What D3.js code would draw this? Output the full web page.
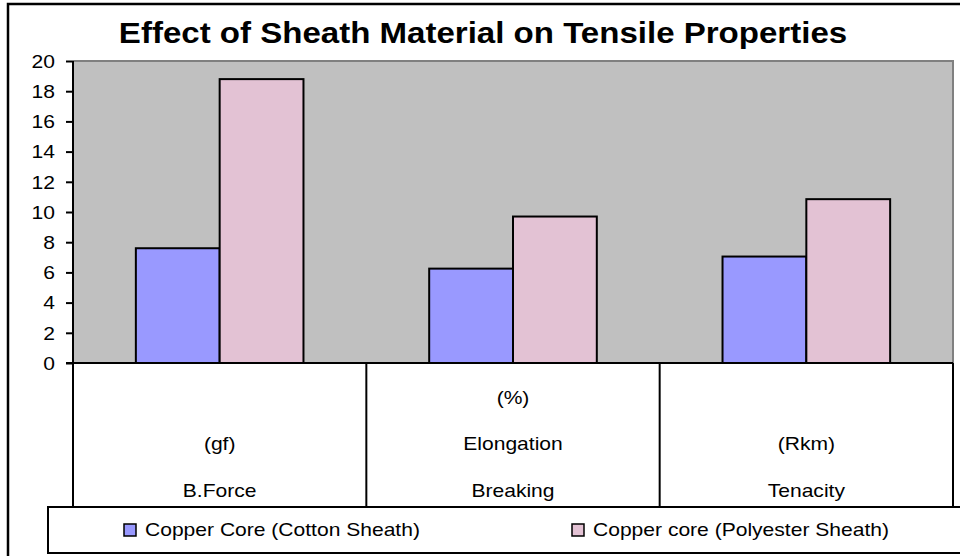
<!DOCTYPE html>
<html>
<head>
  <meta charset="UTF-8">
  <title>Effect of Sheath Material on Tensile Properties</title>
  <script src="https://d3js.org/d3.v7.min.js"></script>
  <style>
    body { margin: 0; background: #fff; }
    text { font-family: "Liberation Sans", Arial, sans-serif; fill: #000; }
  </style>
</head>
<body>
  <div id="chart"></div>
  <script>
    // chart data
    var categories = ["B.Force", "Elongation", "Tenacity"];
    // label lines for each category, bottom row first
    var labelLines = [["B.Force", "(gf)"], ["Breaking", "Elongation", "(%)"], ["Tenacity", "(Rkm)"]];
    var seriesNames = ["Copper Core (Cotton Sheath)", "Copper core (Polyester Sheath)"];
    var cottonValues = [7.6, 6.25, 7.05];
    var polyesterValues = [18.8, 9.7, 10.85];
    var yTicks = [0, 2, 4, 6, 8, 10, 12, 14, 16, 18, 20];

    var width = 960, height = 556;
    var stretch = 1.17; // text in the picture is a bit wider than normal Arial
    var colors = ["#9999ff", "#e3c2d4"]; // blue, and the mean tone of the pink dither

    var plot = { left: 73, right: 953, top: 61, bottom: 363 };
    var tableBottom = 507;

    var svg = d3.select("#chart").append("svg")
        .attr("width", width)
        .attr("height", height);

    // outer chart border
    svg.append("rect")
        .attr("x", 8).attr("y", 4)
        .attr("width", 960).attr("height", 560)
        .attr("fill", "none")
        .attr("stroke", "#000")
        .attr("stroke-width", 2.5);

    // title
    svg.append("text")
        .attr("transform", "translate(483,43) scale(1.14,1)")
        .attr("text-anchor", "middle")
        .style("font-size", "29px")
        .style("font-weight", "bold")
        .text("Effect of Sheath Material on Tensile Properties");

    // scales
    var x0 = d3.scaleBand()
        .domain(categories)
        .range([plot.left, plot.right])
        .padding(0);

    var x1 = d3.scaleBand()
        .domain(seriesNames)
        .range([0, x0.bandwidth()])
        .paddingInner(0)
        .paddingOuter(0.75);

    var y = d3.scaleLinear()
        .domain([0, 20])
        .range([plot.bottom, plot.top]);

    // plot background
    svg.append("rect")
        .attr("x", plot.left).attr("y", plot.top)
        .attr("width", plot.right - plot.left)
        .attr("height", plot.bottom - plot.top)
        .attr("fill", "#c0c0c0");
    svg.append("path")
        .attr("d", "M" + plot.left + "," + plot.top + "H" + plot.right + "V" + plot.bottom)
        .attr("fill", "none")
        .attr("stroke", "#808080")
        .attr("stroke-width", 2);

    // bars
    var rows = categories.map(function(c, i) {
      return { cat: c, values: [
        { name: seriesNames[0], value: cottonValues[i] },
        { name: seriesNames[1], value: polyesterValues[i] }
      ]};
    });

    var groups = svg.append("g").selectAll("g")
        .data(rows)
        .enter().append("g")
        .attr("transform", function(d) { return "translate(" + x0(d.cat) + ",0)"; });

    groups.selectAll("rect")
        .data(function(d) { return d.values; })
        .enter().append("rect")
        .attr("x", function(d) { return x1(d.name); })
        .attr("y", function(d) { return y(d.value); })
        .attr("width", x1.bandwidth())
        .attr("height", function(d) { return y(0) - y(d.value); })
        .attr("fill", function(d, i) { return colors[i]; })
        .attr("stroke", "#000")
        .attr("stroke-width", 2);

    // y axis
    var yAxis = svg.append("g")
        .attr("transform", "translate(" + plot.left + ",0)")
        .call(d3.axisLeft(y).tickValues(yTicks).tickSize(7).tickSizeOuter(0));
    yAxis.select(".domain").remove();
    yAxis.selectAll(".tick line").attr("stroke", "#000").attr("stroke-width", 2);
    yAxis.selectAll(".tick text")
        .attr("x", null)
        .attr("dy", "0.35em")
        .attr("transform", "translate(-18,0) scale(" + stretch + ",1)")
        .style("font-size", "18px")
        .style("font-family", "'Liberation Sans', Arial, sans-serif");

    // axis line running down through the label table
    svg.append("line")
        .attr("x1", plot.left).attr("x2", plot.left)
        .attr("y1", plot.top).attr("y2", tableBottom)
        .attr("stroke", "#000").attr("stroke-width", 2);
    // zero line
    svg.append("line")
        .attr("x1", plot.left - 7).attr("x2", plot.right)
        .attr("y1", y(0)).attr("y2", y(0))
        .attr("stroke", "#000").attr("stroke-width", 2);

    // category dividers in the label table
    categories.forEach(function(c) {
      svg.append("line")
          .attr("x1", x0(c) + x0.bandwidth()).attr("x2", x0(c) + x0.bandwidth())
          .attr("y1", y(0)).attr("y2", tableBottom)
          .attr("stroke", "#000").attr("stroke-width", 2);
    });

    // category labels
    var rowY = [497, 450, 404];
    labelLines.forEach(function(lines, i) {
      var cx = x0(categories[i]) + x0.bandwidth() / 2;
      lines.forEach(function(t, j) {
        svg.append("text")
            .attr("transform", "translate(" + cx + "," + rowY[j] + ") scale(" + stretch + ",1)")
            .attr("text-anchor", "middle")
            .style("font-size", "18px")
            .text(t);
      });
    });

    // legend box
    svg.append("rect")
        .attr("x", 48).attr("y", tableBottom)
        .attr("width", 930).attr("height", 46)
        .attr("fill", "#fff")
        .attr("stroke", "#000")
        .attr("stroke-width", 2);

    var legendX = [124, 572];
    seriesNames.forEach(function(name, i) {
      svg.append("rect")
          .attr("x", legendX[i]).attr("y", 524)
          .attr("width", 12).attr("height", 12)
          .attr("fill", colors[i])
          .attr("stroke", "#000")
          .attr("stroke-width", 1.5);
      svg.append("text")
          .attr("transform", "translate(" + (legendX[i] + 21) + ",536) scale(" + stretch + ",1)")
          .style("font-size", "18px")
          .text(name);
    });
  </script>
</body>
</html>
